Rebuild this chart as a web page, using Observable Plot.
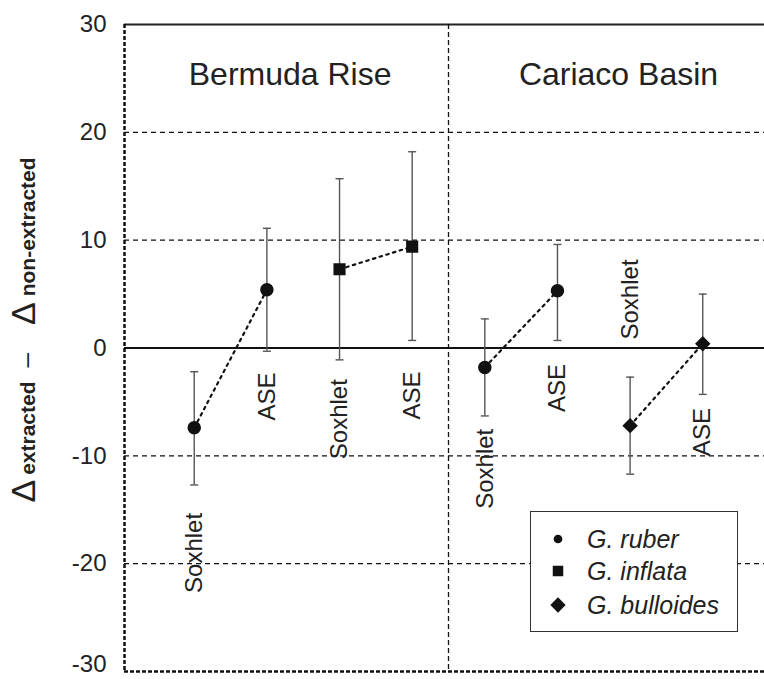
<!DOCTYPE html>
<html><head><meta charset="utf-8">
<script src="https://cdn.jsdelivr.net/npm/d3@7"></script>
<script src="https://cdn.jsdelivr.net/npm/@observablehq/plot@0.6"></script>
<style>body{margin:0;background:#fff;} #chart svg{display:block;}</style>
</head><body><div id="chart"></div>
<script>
// ---- data ----
const sites   = ["Bermuda Rise","Bermuda Rise","Bermuda Rise","Bermuda Rise","Cariaco Basin","Cariaco Basin","Cariaco Basin","Cariaco Basin"];
const methods = ["Soxhlet","ASE","Soxhlet","ASE","Soxhlet","ASE","Soxhlet","ASE"];
const species = ["G. ruber","G. ruber","G. inflata","G. inflata","G. ruber","G. ruber","G. bulloides","G. bulloides"];
const values  = [-7.4, 5.4, 7.3, 9.4, -1.8, 5.3, -7.2, 0.4];
const errLow  = [-12.7, -0.3, -1.1, 0.7, -6.3, 0.7, -11.7, -4.3];
const errHigh = [-2.2, 11.1, 15.7, 18.2, 2.7, 9.6, -2.7, 5.0];
const labelY  = [-19, -4.5, -6.6, -4.4, -11.2, -3.7, 4.5, -7.8];
const regionNames = ["Bermuda Rise","Cariaco Basin"];
const regionX = [2.32, 6.84];
const regionY = [25.3, 25.3];
const speciesList = ["G. ruber","G. inflata","G. bulloides"];
const yTicks = [30, 20, 10, 0, -10, -20];
const yTickBottom = [-30];
const gridY = [20, 10, -10, -20];

// ---- build ----
const rows = values.map((v, k) => ({
  i: k + 1, site: sites[k], species: species[k], method: methods[k],
  v, lo: errLow[k], hi: errHigh[k], ly: labelY[k], pair: Math.floor(k / 2)
}));
const regions = regionNames.map((n, k) => ({name: n, x: regionX[k], y: regionY[k]}));
const cap = {draw(ctx, size) { const w = Math.sqrt(size / Math.PI); ctx.moveTo(-w, 0); ctx.lineTo(w, 0); }};
const font = "'Liberation Sans', Arial, Helvetica, sans-serif";
const xMin = 0.04, xMax = 8.85;

const plot = Plot.plot({
  width: 764, height: 679,
  marginLeft: 124, marginRight: 0, marginTop: 24, marginBottom: 8,
  style: {fontFamily: font, background: "white", color: "#222"},
  x: {domain: [xMin, xMax], axis: null},
  y: {domain: [-30, 30]},
  symbol: {domain: speciesList, range: ["circle", "square", "diamond2"]},
  marks: [
    Plot.ruleY(gridY, {stroke: "#111", strokeWidth: 1.3, strokeDasharray: "5,4"}),
    Plot.ruleY([0], {stroke: "#111", strokeWidth: 2}),
    Plot.ruleY([30], {stroke: "#222", strokeWidth: 2}),
    Plot.ruleY([-30], {stroke: "#111", strokeWidth: 2.5, strokeDasharray: "4,2"}),
    Plot.ruleX([xMin], {stroke: "#111", strokeWidth: 2.5, strokeDasharray: "4,2"}),
    Plot.ruleX([4.5], {stroke: "#111", strokeWidth: 1.3, strokeDasharray: "5,3"}),
    Plot.axisY({ticks: yTicks, tickSize: 0, tickPadding: 18, fontSize: 24, label: null, tickFormat: d => String(d), fill: "#222"}),
    Plot.axisY({ticks: yTickBottom, tickSize: 0, tickPadding: 18, fontSize: 24, label: null, tickFormat: d => String(d), fill: "#222", dy: -7}),
    Plot.text(regions, {x: "x", y: "y", text: "name", fontSize: 32, fill: "#222"}),
    Plot.ruleX(rows, {x: "i", y1: "lo", y2: "hi", stroke: "#555", strokeWidth: 1.4}),
    Plot.dot(rows, {x: "i", y: "lo", symbol: cap, r: 4, fill: "none", stroke: "#555", strokeWidth: 1.4}),
    Plot.dot(rows, {x: "i", y: "hi", symbol: cap, r: 4, fill: "none", stroke: "#555", strokeWidth: 1.4}),
    Plot.line(rows, {x: "i", y: "v", z: "pair", stroke: "#111", strokeWidth: 2.2, strokeDasharray: "2.5,4.5"}),
    Plot.dot(rows, {x: "i", y: "v", symbol: "species", r: 6, fill: "#111", stroke: "#111"}),
    Plot.text(rows, {x: "i", y: "ly", text: "method", rotate: -90, fontSize: 24, fill: "#222"})
  ]
});
document.getElementById("chart").appendChild(plot);

// ---- y-axis label ----
const svg = d3.select(plot);
const lab = svg.append("text")
  .attr("transform", "translate(35,330) rotate(-90)")
  .attr("text-anchor", "middle")
  .attr("fill", "#222")
  .style("font-family", font);
lab.append("tspan").attr("font-size", 34).text("Δ");
lab.append("tspan").attr("font-size", 21).attr("font-weight", "bold").attr("dx", 5).text("extracted");
lab.append("tspan").attr("font-size", 26).attr("dx", 14).text("–");
lab.append("tspan").attr("font-size", 34).attr("dx", 28).text("Δ");
lab.append("tspan").attr("font-size", 21).attr("font-weight", "bold").attr("dx", 6).text("non-extracted");

// ---- legend ----
const lg = svg.append("g").style("font-family", font).attr("text-anchor", "start");
lg.append("rect").attr("x", 530.5).attr("y", 511.5).attr("width", 207).attr("height", 120)
  .attr("fill", "white").attr("stroke", "#333").attr("stroke-width", 1);
const legSym = [d3.symbolCircle, d3.symbolSquare, d3.symbolDiamond2];
const legSize = [60, 110, 150];
const legY = [539, 571, 605];
speciesList.forEach((s, k) => {
  lg.append("path").attr("transform", `translate(558,${legY[k]})`)
    .attr("d", d3.symbol(legSym[k], legSize[k])()).attr("fill", "#111");
  lg.append("text").attr("x", 587).attr("y", legY[k]).attr("dy", "0.35em")
    .attr("text-anchor", "start")
    .attr("font-size", 25).attr("font-style", "italic").attr("fill", "#222").text(s);
});
</script>
</body></html>
